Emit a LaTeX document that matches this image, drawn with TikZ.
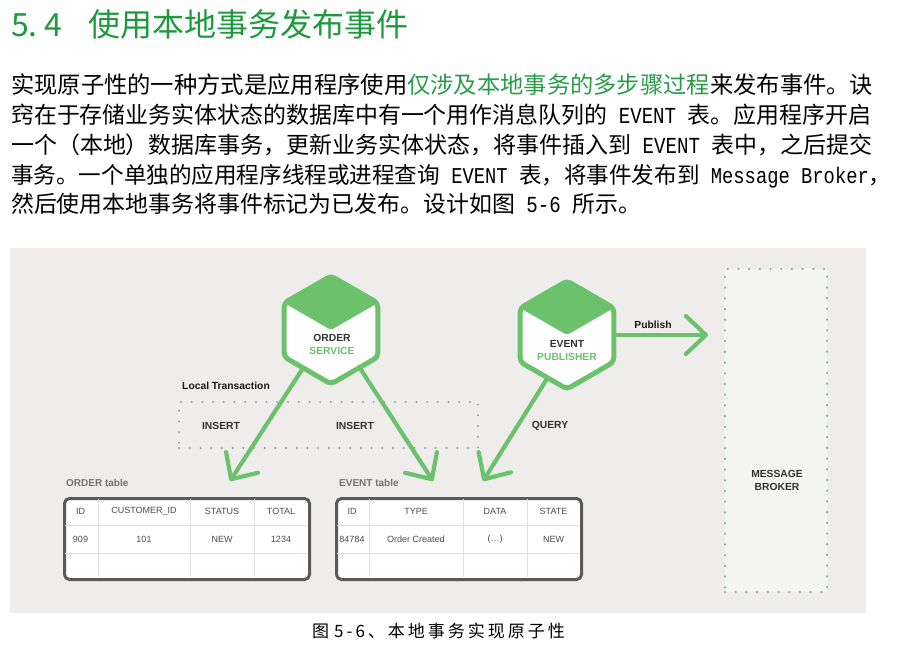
\documentclass[tikz,border=0pt]{standalone}
\usepackage{fontspec}
\setmainfont{Liberation Sans}
\newfontfamily\cjk{Noto Sans CJK SC}
\newfontfamily\cjkcap{Noto Sans CJK SC}[LetterSpace=17.6]
\newfontfamily\monolat{Liberation Mono}[FakeStretch=0.8333]
\usetikzlibrary{calc,arrows.meta}
\definecolor{headgreen}{HTML}{1E9A3E}
\definecolor{textgreen}{HTML}{2A9D4A}
\definecolor{dgreen}{HTML}{6CC26C}
\definecolor{dotgreen}{HTML}{78C078}
\definecolor{panel}{HTML}{EEEDEB}
\definecolor{brokerfill}{HTML}{F4F4F3}
\definecolor{tblframe}{HTML}{5A5A5A}
\definecolor{gridline}{HTML}{E0E0E0}
\newcommand\lat[1]{\hspace{0.5em}{\monolat #1}\hspace{0.5em}}
\newcommand\bodyfont[1]{\fontsize{#1}{#1}\selectfont\cjk}
\newcommand\datadots{(\ldots)}
\newcommand\hexagonpic[2]{%
  \fill[white] ($(#1)+(90:#2)$) -- ($(#1)+(30:#2)$) -- ($(#1)+(-30:#2)$) -- ($(#1)+(-90:#2)$) -- ($(#1)+(-150:#2)$) -- ($(#1)+(150:#2)$) -- cycle;
  \fill[dgreen, rounded corners=3pt] ($(#1)+(90:#2)$) -- ($(#1)+(30:#2)$) -- (#1) -- ($(#1)+(150:#2)$) -- cycle;
  \draw[hexline] ($(#1)+(90:#2)$) -- ($(#1)+(30:#2)$) -- ($(#1)+(-30:#2)$) -- ($(#1)+(-90:#2)$) -- ($(#1)+(-150:#2)$) -- ($(#1)+(150:#2)$) -- cycle;
}
\tikzset{
  bodyline/.style={anchor=base west, inner sep=0pt},
  hexline/.style={draw=dgreen, line width=5pt, rounded corners=4pt, line join=round},
  flow/.style={draw=dgreen, line width=4.2pt, line cap=round,
    -{Straight Barb[length=20pt,width=38pt,line cap=round,line join=round]}},
  lbl/.style={font=\bfseries\fontsize{10.3}{13}\selectfont, text=black!80, inner sep=0pt, align=center},
  tbllabel/.style={font=\bfseries\fontsize{10}{12}\selectfont, text=black!55, anchor=west, inner sep=0pt},
  cell/.style={font=\fontsize{9}{10}\selectfont, text=black!70, inner sep=0pt},
  tblbox/.style={draw=tblframe, line width=3pt, fill=white, rounded corners=5pt, anchor=north west, inner sep=0pt},
  grid/.style={draw=gridline, line width=1pt},
  txbox/.style={draw=black!38, line width=2.2pt, line cap=round, dash pattern=on 0pt off 10.7pt, inner sep=0pt},
  brokerbox/.style={draw=dotgreen, fill=brokerfill, line width=2.4pt, line cap=round, dash pattern=on 0pt off 10.7pt, inner sep=0pt},
}
\begin{document}
\begin{tikzpicture}[x=1pt,y=-1pt]
\useasboundingbox (0,0) rectangle (897,650);
\fill[white] (0,0) rectangle (897,650);

% heading
\node[bodyline, text=headgreen] (headnum) at (11,36.5) {\fontsize{32pt}{32pt}\selectfont\cjk\makebox[33pt][l]{5.}4};
\node[bodyline, text=headgreen] (headtitle) at (88,36.5) {\fontsize{32pt}{32pt}\selectfont\cjk 使用本地事务发布事件};

% paragraph
\node[bodyline] (line1) at (11,93.6) {\bodyfont{23.3pt}实现原子性的一种方式是应用程序使用\textcolor{textgreen}{仅涉及本地事务的多步骤过程}来发布事件。诀};
\node[bodyline] (line2) at (11,123.4) {\bodyfont{22.93pt}窍在于存储业务实体状态的数据库中有一个用作消息队列的\lat{EVENT}表。应用程序开启};
\node[bodyline] (line3) at (11,153.4) {\bodyfont{22.96pt}一个（本地）数据库事务，更新业务实体状态，将事件插入到\lat{EVENT}表中，之后提交};
\node[bodyline] (line4) at (11,183.1) {\bodyfont{22.57pt}事务。一个单独的应用程序线程或进程查询\lat{EVENT}表，将事件发布到\hspace{0.5em}{\monolat Message\hspace{0.5em}Broker}，};
\node[bodyline] (line5) at (11,212.6) {\bodyfont{22.9pt}然后使用本地事务将事件标记为已发布。设计如图\lat{5-6}所示。};

% diagram panel
\fill[panel] (10,248) rectangle (866,613);

% local transaction box
\node[txbox, minimum width=299pt, minimum height=46pt] (ltx) at (328.5,425) {};
\node[lbl, text=black!90] (ltxlabel) at (226,386) {Local Transaction};
\node[lbl] (ins1) at (221,426) {INSERT};
\node[lbl] (ins2) at (355,426) {INSERT};
\node[lbl] (query) at (550,426) {QUERY};

% message broker
\node[brokerbox, minimum width=102pt, minimum height=323pt] (mb) at (776,430.5) {};
\node[lbl] (mbtext) at (777,480.5) {MESSAGE\\BROKER};

% connector end points
\coordinate (os) at (331,330);
\coordinate (ep) at (567,335);
\coordinate (osl) at (305,365);
\coordinate (osr) at (356,362);
\coordinate (epl) at (550,374);
\coordinate (epr) at (610,335);
\coordinate (otin) at (230,481);
\coordinate (etin1) at (433,481);
\coordinate (etin2) at (483,481);
\coordinate (mbin) at (708,335);

% connectors
\draw[flow] (osl) -- (otin);
\draw[flow] (osr) -- (etin1);
\draw[flow] (epl) -- (etin2);
\draw[flow] (epr) -- (mbin);
\node[lbl, text=black!90] (publish) at (653,325) {Publish};

% hexagons
\hexagonpic{os}{54pt}
\hexagonpic{ep}{54pt}
\node[lbl] (ostext) at (332,344.5) {ORDER\\\textcolor{dgreen}{SERVICE}};
\node[lbl] (eptext) at (567,351) {EVENT\\\textcolor{dgreen}{PUBLISHER}};

% ORDER table
\node[tbllabel] (otlabel) at (66,483) {ORDER table};
\node[tblbox, minimum width=245pt, minimum height=81pt] (otbl) at (63,497) {};
\foreach \gx in {98,190,254} \draw[grid] (\gx,498.5) -- (\gx,576.5);
\foreach \gy in {525,553} \draw[grid] (64.5,\gy) -- (306.5,\gy);
\foreach \cx/\txt [count=\i] in {80.5/ID,144/CUSTOMER\_ID,222/STATUS,281/TOTAL}
  \node[cell] (oh\i) at (\cx,511) {\txt};
\foreach \cx/\txt [count=\i] in {80.5/909,144/101,222/NEW,281/1234}
  \node[cell] (ov\i) at (\cx,539) {\txt};

% EVENT table
\node[tbllabel] (etlabel) at (339,483) {EVENT table};
\node[tblbox, minimum width=245pt, minimum height=81pt] (etbl) at (335,497) {};
\foreach \gx in {369,463,527} \draw[grid] (\gx,498.5) -- (\gx,576.5);
\foreach \gy in {525,553} \draw[grid] (336.5,\gy) -- (578.5,\gy);
\foreach \cx/\txt [count=\i] in {352/ID,416/TYPE,495/DATA,553.5/STATE}
  \node[cell] (eh\i) at (\cx,511) {\txt};
\foreach \cx/\txt [count=\i] in {352/84784,416/Order Created,495/\datadots,553.5/NEW}
  \node[cell] (ev\i) at (\cx,539) {\txt};

% caption
\node[bodyline] (caption) at (312,637) {\fontsize{17pt}{17pt}\selectfont\cjkcap 图\hspace{5pt}5-6、本地事务实现原子性};
\end{tikzpicture}
\end{document}
